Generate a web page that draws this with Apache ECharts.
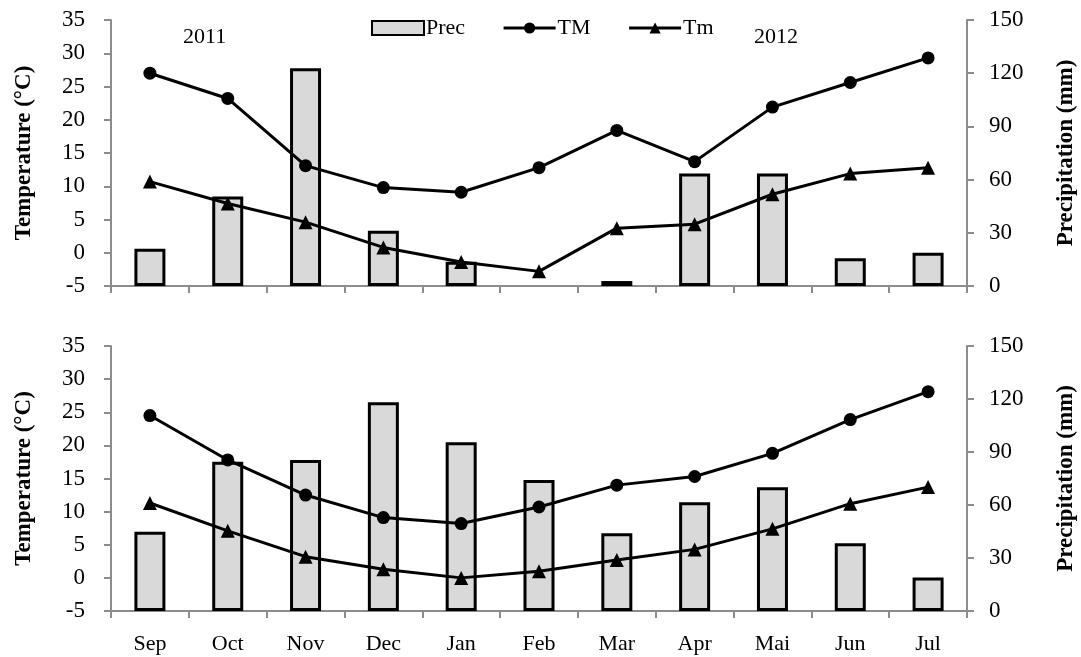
<!DOCTYPE html>
<html>
<head>
<meta charset="utf-8">
<script src="https://cdn.jsdelivr.net/npm/echarts@6/dist/echarts.min.js"></script>
<style>
  html, body { margin: 0; padding: 0; background: #fff; overflow: hidden; }
  #chart { width: 1081px; height: 657px; }
</style>
</head>
<body>
<div id="chart"></div>
<script>
// months of the growing season
const months = ['Sep', 'Oct', 'Nov', 'Dec', 'Jan', 'Feb', 'Mar', 'Apr', 'Mai', 'Jun', 'Jul']

// 2011/2012 season (top panel)
const precTop = [21, 50.4, 122.8, 31.2, 13.7, 0, 2.8, 63.5, 63.5, 15.6, 18.8]
const tmaxTop = [27.0, 23.2, 13.1, 9.8, 9.1, 12.8, 18.4, 13.7, 21.9, 25.6, 29.3]
const tminTop = [10.7, 7.4, 4.6, 0.8, -1.4, -2.8, 3.7, 4.3, 8.8, 11.9, 12.8]

// second season (bottom panel)
const precBottom = [44.9, 84.5, 85.5, 118.1, 95.5, 74.1, 44, 61.5, 70, 38.3, 18.9]
const tmaxBottom = [24.5, 17.8, 12.5, 9.1, 8.2, 10.7, 14.0, 15.3, 18.8, 23.9, 28.1]
const tminBottom = [11.3, 7.1, 3.2, 1.3, 0.0, 1.0, 2.7, 4.3, 7.4, 11.2, 13.7]

const FONT = '"Liberation Serif", "DejaVu Serif", serif'
const AXIS_GREY = '#8c8c8c'

const chart = echarts.init(document.getElementById('chart'))

const xAxisFor = (gridIndex, showLabels) => ({
  type: 'category',
  gridIndex,
  data: months,
  boundaryGap: true,
  axisLine: { onZero: false, lineStyle: { color: AXIS_GREY, width: 2 } },
  axisTick: { show: true, length: 7, lineStyle: { color: AXIS_GREY, width: 2 } },
  axisLabel: {
    show: showLabels,
    color: '#000',
    fontFamily: FONT,
    fontSize: 22,
    margin: 22
  },
  splitLine: { show: false }
})

const tempAxis = (gridIndex) => ({
  type: 'value',
  gridIndex,
  min: -5,
  max: 35,
  interval: 5,
  position: 'left',
  name: 'Temperature (°C)',
  nameLocation: 'middle',
  nameGap: 75,
  nameRotate: 90,
  nameTextStyle: { fontFamily: FONT, fontSize: 23, fontWeight: 'bold', color: '#000' },
  axisLine: { show: true, lineStyle: { color: AXIS_GREY, width: 2 } },
  axisTick: { show: true, length: 7, lineStyle: { color: AXIS_GREY, width: 2 } },
  axisLabel: { color: '#000', fontFamily: FONT, fontSize: 23, margin: 26 },
  splitLine: { show: false }
})

const precAxis = (gridIndex) => ({
  type: 'value',
  gridIndex,
  min: 0,
  max: 150,
  interval: 30,
  position: 'right',
  name: 'Precipitation (mm)',
  nameLocation: 'middle',
  nameGap: 88,
  nameRotate: 90,
  nameTextStyle: { fontFamily: FONT, fontSize: 23, fontWeight: 'bold', color: '#000' },
  axisLine: { show: true, lineStyle: { color: AXIS_GREY, width: 2 } },
  axisTick: { show: true, length: 7, lineStyle: { color: AXIS_GREY, width: 2 } },
  axisLabel: { color: '#000', fontFamily: FONT, fontSize: 23, margin: 22 },
  splitLine: { show: false }
})

// zero-rain months get no outline, as in the original figure
const barData = (values) => values.map(v => v === 0 ? { value: 0, itemStyle: { borderWidth: 0 } } : v)

const barSeries = (data, xi, yi) => ({
  name: 'Prec',
  type: 'bar',
  xAxisIndex: xi,
  yAxisIndex: yi,
  data: barData(data),
  barWidth: 31,
  itemStyle: { color: '#d9d9d9', borderColor: '#000', borderWidth: 3 },
  z: 1
})

const lineSeries = (name, symbol, size, data, xi, yi) => ({
  name,
  type: 'line',
  xAxisIndex: xi,
  yAxisIndex: yi,
  data,
  symbol,
  symbolSize: size,
  showSymbol: true,
  lineStyle: { color: '#000', width: 3 },
  itemStyle: { color: '#000' },
  z: 3
})

const option = {
  backgroundColor: '#fff',
  animation: false,
  legend: {
    data: [{ name: 'Prec', icon: 'rect' }, 'TM', 'Tm'],
    left: 366,
    top: 12,
    itemWidth: 52,
    itemHeight: 14,
    itemGap: 37,
    lineStyle: { width: 3 },
    textStyle: { fontFamily: FONT, fontSize: 22, color: '#000', padding: [0, 0, 0, -3] }
  },
  grid: [
    { left: 111, right: 114, top: 20, height: 266, outerBoundsMode: 'none' },
    { left: 111, right: 114, top: 346, height: 265, outerBoundsMode: 'none' }
  ],
  xAxis: [xAxisFor(0, false), xAxisFor(1, true)],
  yAxis: [tempAxis(0), precAxis(0), tempAxis(1), precAxis(1)],
  graphic: [
    { type: 'text', left: 183, top: 26, style: { text: '2011', font: '22px ' + FONT, fill: '#000' } },
    { type: 'text', left: 754, top: 26, style: { text: '2012', font: '22px ' + FONT, fill: '#000' } }
  ],
  series: [
    barSeries(precTop, 0, 1),
    lineSeries('TM', 'circle', 13, tmaxTop, 0, 0),
    lineSeries('Tm', 'triangle', 14, tminTop, 0, 0),
    barSeries(precBottom, 1, 3),
    lineSeries('TM', 'circle', 13, tmaxBottom, 1, 2),
    lineSeries('Tm', 'triangle', 14, tminBottom, 1, 2)
  ]
}

chart.setOption(option)
</script>
</body>
</html>
